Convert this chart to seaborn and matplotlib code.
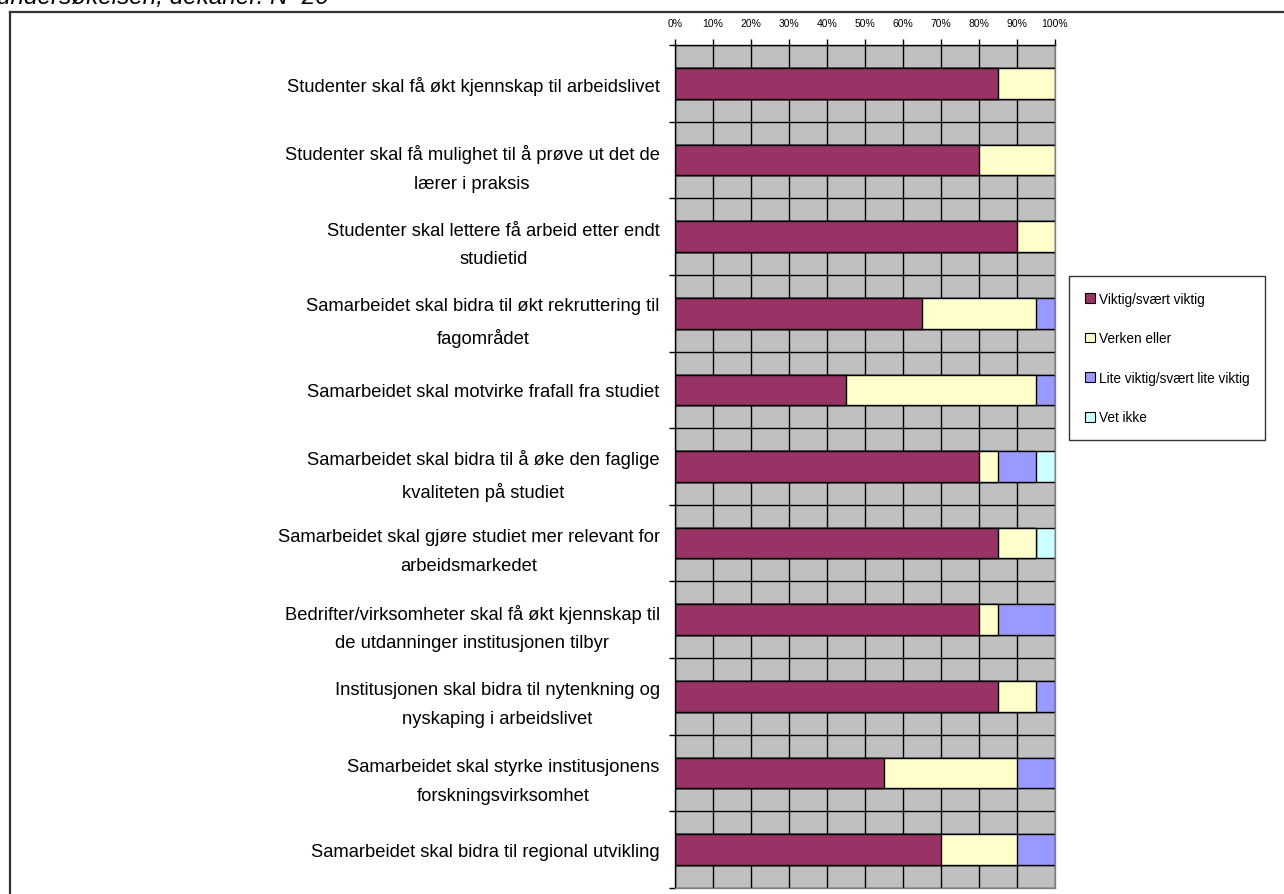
import numpy as np
import pandas as pd
import matplotlib
matplotlib.use("Agg")
import matplotlib.pyplot as plt
import seaborn as sns
from matplotlib.patches import Patch
from matplotlib.lines import Line2D
from matplotlib.ticker import FixedLocator

# Statements (wrapped as shown on the axis)
statements = [
    "Studenter skal få økt kjennskap til arbeidslivet",
    "Studenter skal få mulighet til å prøve ut det de\nlærer i praksis",
    "Studenter skal lettere få arbeid etter endt\nstudietid",
    "Samarbeidet skal bidra til økt rekruttering til\nfagområdet",
    "Samarbeidet skal motvirke frafall fra studiet",
    "Samarbeidet skal bidra til å øke den faglige\nkvaliteten på studiet",
    "Samarbeidet skal gjøre studiet mer relevant for\narbeidsmarkedet",
    "Bedrifter/virksomheter skal få økt kjennskap til\nde utdanninger institusjonen tilbyr",
    "Institusjonen skal bidra til nytenkning og\nnyskaping i arbeidslivet",
    "Samarbeidet skal styrke institusjonens\nforskningsvirksomhet",
    "Samarbeidet skal bidra til regional utvikling",
]

# Share of answers (%) per response category
viktig = [85, 80, 90, 65, 45, 80, 85, 80, 85, 55, 70]
verken = [15, 20, 10, 30, 50, 5, 10, 5, 10, 35, 20]
lite_viktig = [0, 0, 0, 5, 5, 10, 0, 15, 5, 10, 10]
vet_ikke = [0, 0, 0, 0, 0, 5, 5, 0, 0, 0, 0]

series_names = ["Viktig/svært viktig", "Verken eller",
                "Lite viktig/svært lite viktig", "Vet ikke"]
series_colors = ["#993366", "#FFFFCC", "#9999FF", "#CCFFFF"]
x_ticks = [0, 10, 20, 30, 40, 50, 60, 70, 80, 90, 100]
x_tick_labels = ["0%", "10%", "20%", "30%", "40%", "50%",
                 "60%", "70%", "80%", "90%", "100%"]

plt.rcParams["font.family"] = ["Liberation Sans", "DejaVu Sans"]

df = pd.DataFrame({"Påstand": statements,
                   series_names[0]: viktig,
                   series_names[1]: verken,
                   series_names[2]: lite_viktig,
                   series_names[3]: vet_ikke})
cum = df[series_names].cumsum(axis=1)
cum.insert(0, "Påstand", df["Påstand"])

W, H = 1284, 895
fig = plt.figure(figsize=(W / 100, H / 100), dpi=100)
ax = fig.add_axes([675 / W, 1 - 889 / H, 380 / W, 843 / H])
ax.set_facecolor("#C0C0C0")

# Stacked bars: draw cumulative totals from the outermost segment inwards
for name, color in reversed(list(zip(series_names, series_colors))):
    sns.barplot(data=cum, x=name, y="Påstand", order=statements,
                orient="h", color=color, saturation=1, width=0.4,
                edgecolor="black", linewidth=1, errorbar=None, ax=ax)

ax.set_xlim(0, 100)
ax.set_ylim(len(statements) - 0.5, -0.5)
ax.set_xlabel("")
ax.set_ylabel("")

# x axis on top
ax.xaxis.tick_top()
ax.xaxis.set_major_locator(FixedLocator(x_ticks))
ax.set_xticklabels(x_tick_labels, fontsize=7.5)
ax.tick_params(axis="x", which="major", direction="out", length=4,
               width=1, color="black", pad=8)

# category axis: ticks between categories
ax.yaxis.set_major_locator(FixedLocator(range(len(statements))))
ax.set_yticklabels(statements, fontsize=13.2)
ax.yaxis.set_minor_locator(FixedLocator(np.arange(-0.5, len(statements), 1.0)))
ax.tick_params(axis="y", which="major", length=0, pad=11)
ax.tick_params(axis="y", which="minor", direction="out", length=4,
               width=1, color="black")
for lbl in ax.get_yticklabels():
    lbl.set_multialignment("center")
    lbl.set_linespacing(1.9)

# grid
ax.set_axisbelow(True)
ax.xaxis.grid(True, which="major", color="black", linewidth=1)
ax.yaxis.grid(True, which="minor", color="black", linewidth=1)
ax.yaxis.grid(False, which="major")

for side in ["left", "top"]:
    ax.spines[side].set_color("black")
    ax.spines[side].set_linewidth(1)
for side in ["right", "bottom"]:
    ax.spines[side].set_color("#808080")
    ax.spines[side].set_linewidth(1)

# legend
handles = [Patch(facecolor=c, edgecolor="black", linewidth=0.8)
           for c in series_colors]
leg = fig.legend(handles, series_names, loc="upper left",
                 bbox_to_anchor=(1069 / W, 1 - 277 / H),
                 fontsize=9.8, frameon=True, fancybox=False, shadow=False,
                 handlelength=0.75, handleheight=0.75, handletextpad=0.3,
                 labelspacing=1.88, borderpad=1.15, borderaxespad=0)
leg.get_frame().set_edgecolor("black")
leg.get_frame().set_linewidth(1)

# outer frame and the heading line above it
fig.add_artist(Line2D([10 / W, 1.0], [1 - 13 / H, 1 - 13 / H],
                      transform=fig.transFigure, color="#333333", lw=1.6))
fig.add_artist(Line2D([10 / W, 10 / W], [1 - 13 / H, 0.0],
                      transform=fig.transFigure, color="#333333", lw=1.6))
fig.text(-0.002, 1 - 4 / H, "undersøkelsen, dekaner. N=20", style="italic",
         fontsize=17.5, ha="left", va="baseline", color="black")

fig.savefig("out.png", dpi=100)
